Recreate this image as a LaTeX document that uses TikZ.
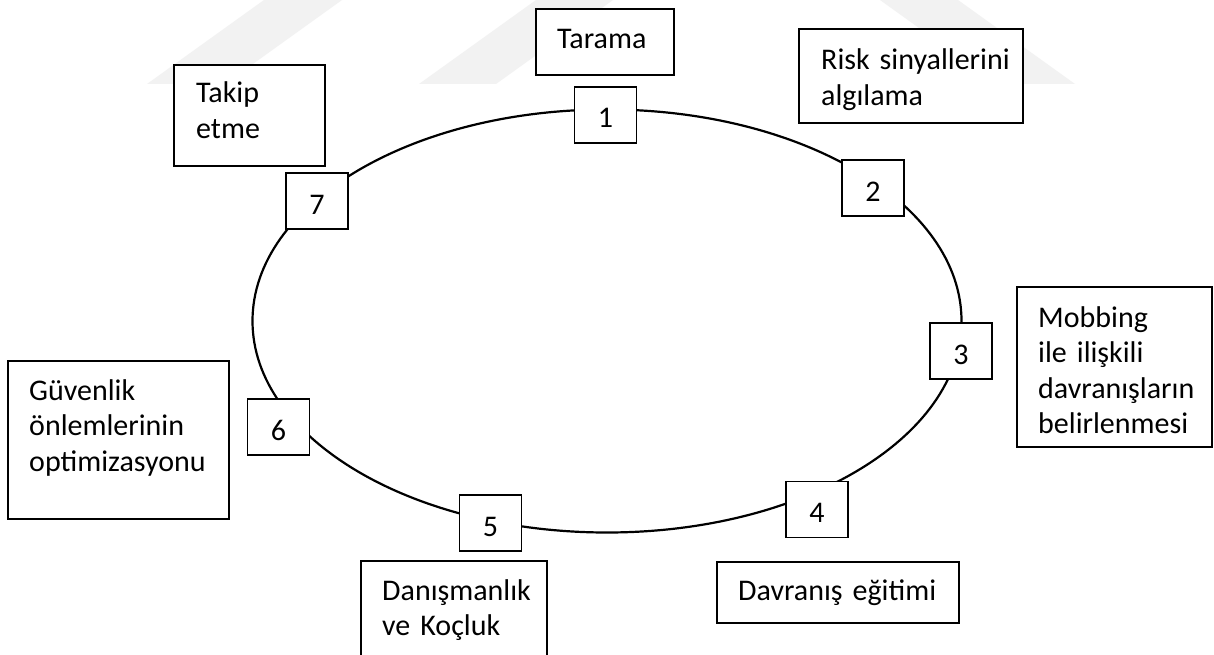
\documentclass[tikz,border=0pt]{standalone}
\usepackage{fontspec}
\setmainfont{Carlito}
\begin{document}
\begin{tikzpicture}[x=1pt,y=-1pt,
  lbox/.style={draw=black, line width=1.8pt, fill=white, inner sep=0pt},
  nbox/.style={draw=black, line width=1.8pt, fill=white, inner sep=0pt,
    minimum width=62pt, minimum height=56pt, text height=26pt, text depth=0pt,
    font=\fontsize{30}{35.5}\selectfont},
  ltext/.style={anchor=base west, inner sep=0pt, align=left, text width=220pt,
    font=\fontsize{30}{35.5}\selectfont},
  wmark/.style={fill=black!5, draw=none}]
\useasboundingbox (0,0) rectangle (1214,655);
\fill[white] (0,0) rectangle (1214,655);
\clip (0,0) rectangle (1214,655);
% faint watermark
\fill[wmark] (147,84) -- (225,84) -- (342,0) -- (264,0) -- cycle;
\fill[wmark] (419,84) -- (496,84) -- (613,0) -- (536,0) -- cycle;
\fill[wmark] (880,0) -- (958,0) -- (1075,84) -- (997,84) -- cycle;
% cycle
\draw[line width=2.2pt] (607,321) ellipse [x radius=354.5pt, y radius=211.5pt];
% label boxes
\node[lbox, minimum width=138pt, minimum height=66pt] (tarama) at (605,42) {};
\node[lbox, minimum width=224pt, minimum height=94pt] (risk) at (911,76) {};
\node[lbox, minimum width=151pt, minimum height=101pt] (takip) at (249.5,115.5) {};
\node[lbox, minimum width=221pt, minimum height=158pt] (guv) at (118.5,440) {};
\node[lbox, minimum width=195pt, minimum height=160pt] (mob) at (1114.5,367) {};
\node[lbox, minimum width=242pt, minimum height=61pt] (davr) at (838,592.5) {};
\node[lbox, minimum width=186pt, minimum height=118pt] (dan) at (454,620) {};
% texts
\node[ltext] (t1) at (557,49) {Tarama};
\node[ltext] (t2) at (821,70) {Risk sinyallerini\\algılama};
\node[ltext] (t3) at (1038,327) {Mobbing\\ile ilişkili\\davranışların\\belirlenmesi};
\node[ltext] (t4) at (738,600) {Davranış eğitimi};
\node[ltext] (t5) at (382,600) {Danışmanlık\\ve Koçluk};
\node[ltext] (t6) at (29,400) {Güvenlik\\önlemlerinin\\optimizasyonu};
\node[ltext] (t7) at (196,103) {Takip\\etme};
% number boxes
\node[nbox] (n1) at (605.5,115) {1};
\node[nbox] (n2) at (873,188) {2};
\node[nbox] (n3) at (961,351) {3};
\node[nbox] (n4) at (817,509.5) {4};
\node[nbox] (n5) at (490.5,523) {5};
\node[nbox] (n6) at (278.5,427) {6};
\node[nbox] (n7) at (317,201) {7};
\end{tikzpicture}
\end{document}
